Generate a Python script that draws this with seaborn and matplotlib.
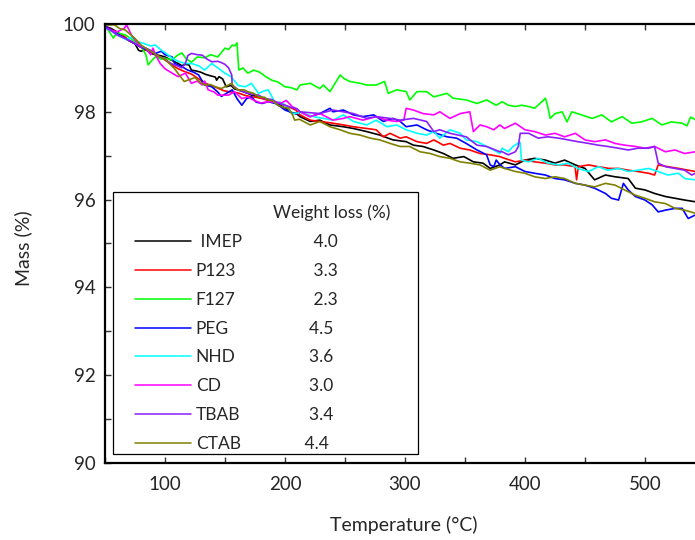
import matplotlib
matplotlib.use("Agg")
import matplotlib.pyplot as plt
import numpy as np
import pandas as pd
import seaborn as sns
from matplotlib.lines import Line2D
from matplotlib.patches import Rectangle
from matplotlib.ticker import MultipleLocator

samples = ["IMEP", "P123", "F127", "PEG", "NHD", "CD", "TBAB", "CTAB"]
legend_names = [" IMEP", "P123", "F127", "PEG", "NHD", "CD", "TBAB", "CTAB"]
weight_loss = ["4.0", "3.3", "2.3", "4.5", "3.6", "3.0", "3.4", "4.4"]
colors = ["#000000", "#ff0000", "#00ff00", "#0000ff", "#00ffff", "#ff00ff", "#8b1eff", "#808000"]
x_ticks = [100, 200, 300, 400, 500]
y_ticks = [90, 92, 94, 96, 98, 100]

T_IMEP = [50, 55, 60, 66, 70, 75, 78, 80, 84, 88, 92, 96, 100, 105, 111, 114, 117, 120, 122, 126,
          130, 134, 138, 142, 143, 145, 148, 151, 155, 158, 161, 165, 169, 172, 176, 180, 183, 187, 191, 194,
          198, 202, 206, 209, 212.5, 221, 229, 237.5, 248.6, 257, 268, 279, 290, 301, 307, 315, 324, 332, 340, 349,
          357, 365, 371, 379, 383, 392, 400, 408, 417, 425, 433, 442, 450, 458, 467, 475, 486, 492, 500, 508,
          517, 525, 533, 542]
M_IMEP = [99.95, 99.9, 99.82, 99.7, 99.62, 99.55, 99.4, 99.38, 99.42, 99.33, 99.3, 99.28, 99.25, 99.18, 99.1, 99.05, 99.08, 99.07, 98.95, 98.93,
          98.9, 98.85, 98.82, 98.79, 98.72, 98.8, 98.75, 98.57, 98.6, 98.52, 98.5, 98.46, 98.42, 98.38, 98.36, 98.32, 98.3, 98.27, 98.23, 98.19,
          98.12, 98.05, 97.96, 97.97, 97.89, 97.78, 97.81, 97.7, 97.66, 97.62, 97.55, 97.47, 97.36, 97.32, 97.24, 97.21, 97.13, 97.05, 96.94, 96.98,
          96.86, 96.83, 96.71, 96.79, 96.86, 96.79, 96.9, 96.94, 96.9, 96.83, 96.9, 96.79, 96.71, 96.45, 96.56, 96.52, 96.48, 96.26, 96.22, 96.14,
          96.07, 96.03, 95.99, 95.95]

T_P123 = [50, 55, 60, 66, 70, 75, 80, 83, 88, 92, 96, 100, 105, 111, 116, 122, 127, 133, 138, 144,
          149, 153, 157, 161, 166, 172, 176, 181, 186, 192, 196, 200, 205, 209, 212.5, 221, 229, 240, 249, 257,
          268, 276, 282, 287.5, 296, 301, 310, 318, 324, 332, 337.5, 346, 354, 362.5, 371, 379, 383, 392, 400, 408,
          417, 425, 433, 441.7, 443, 444.4, 453, 461, 470, 478, 486, 494, 503, 508, 511, 519, 528, 536, 542]
M_P123 = [99.95, 99.88, 99.8, 99.72, 99.62, 99.55, 99.47, 99.41, 99.38, 99.3, 99.25, 99.18, 99.08, 98.98, 98.92, 98.86, 98.77, 98.66, 98.6, 98.54,
          98.48, 98.46, 98.44, 98.43, 98.38, 98.34, 98.33, 98.3, 98.26, 98.23, 98.19, 98.15, 98.09, 98.04, 97.93, 97.81, 97.78, 97.74, 97.7, 97.66,
          97.62, 97.59, 97.43, 97.51, 97.4, 97.43, 97.32, 97.28, 97.36, 97.24, 97.28, 97.17, 97.13, 97.05, 97.02, 96.98, 96.94, 96.86, 96.9, 96.86,
          96.83, 96.79, 96.79, 96.75, 96.45, 96.75, 96.79, 96.75, 96.71, 96.71, 96.67, 96.64, 96.6, 96.56, 96.79, 96.75, 96.71, 96.67, 96.64]

T_F127 = [50, 53, 57, 60, 67, 75, 80, 84, 86, 90, 92, 97, 100, 106, 110, 114, 118, 122, 127, 133,
          138, 144, 147, 150, 153, 156, 158, 160, 161.5, 165, 169, 174, 179, 184, 189, 194, 200, 205, 210, 212.5,
          221, 229, 232, 237.5, 246, 249, 254, 262.5, 268, 276, 283, 286, 293, 301, 304, 310, 318, 324, 335, 340,
          351, 360, 368, 376, 381, 386, 392, 397, 403, 408, 414, 417, 419, 421, 425, 431, 435, 439, 447, 456,
          464, 472, 481, 489, 497, 506, 514, 522, 531, 535, 538, 542]
M_F127 = [99.97, 99.85, 99.68, 99.8, 99.75, 99.6, 99.5, 99.3, 99.07, 99.2, 99.25, 99.2, 99.22, 99.18, 99.28, 99.34, 99.2, 99.13, 99.25, 99.23,
          99.3, 99.25, 99.35, 99.45, 99.42, 99.52, 99.5, 99.57, 98.95, 99.0, 98.88, 98.95, 98.9, 98.8, 98.72, 98.68, 98.57, 98.55, 98.5, 98.61,
          98.65, 98.53, 98.61, 98.46, 98.84, 98.76, 98.69, 98.65, 98.61, 98.61, 98.69, 98.42, 98.5, 98.46, 98.27, 98.46, 98.46, 98.34, 98.42, 98.31,
          98.27, 98.19, 98.27, 98.15, 98.23, 98.15, 98.12, 98.15, 98.12, 98.08, 98.23, 98.31, 98.12, 97.85, 97.96, 98.0, 97.77, 98.0, 97.93, 97.85,
          97.93, 97.77, 97.89, 97.74, 97.77, 97.85, 97.7, 97.77, 97.74, 97.68, 97.88, 97.82]

T_PEG = [50, 55, 60, 66, 72, 78, 84, 90, 92, 97, 100, 106, 108, 114, 119, 124, 128, 133, 139, 144,
         147, 150, 156, 160, 164, 168, 172, 176, 181, 186, 192, 196, 200, 205, 209, 212.5, 221, 229, 237.5, 240,
         248.6, 257, 265, 274, 282, 290, 296, 301, 310, 318, 326, 335, 343, 351, 360, 368, 371, 374, 376, 379,
         383, 392, 400, 408, 417, 425, 433, 442, 450, 458, 467, 472, 478, 482, 486, 492, 500, 506, 511, 517,
         525, 531, 536, 542]
M_PEG = [99.95, 99.87, 99.78, 99.68, 99.6, 99.5, 99.42, 99.36, 99.33, 99.38, 99.3, 99.25, 99.1, 99.03, 98.95, 98.9, 98.84, 98.61, 98.57, 98.45,
         98.35, 98.4, 98.5, 98.3, 98.15, 98.3, 98.34, 98.22, 98.19, 98.23, 98.19, 98.12, 98.04, 97.99, 97.95, 98.0, 97.89, 97.96, 98.08, 98.0,
         98.04, 97.93, 97.89, 97.93, 97.78, 97.85, 97.78, 97.66, 97.7, 97.59, 97.51, 97.43, 97.4, 97.28, 97.13, 97.02, 96.79, 96.75, 96.9, 96.8,
         96.71, 96.75, 96.64, 96.6, 96.56, 96.48, 96.45, 96.37, 96.33, 96.26, 96.14, 96.03, 95.99, 96.37, 96.22, 96.07, 95.99, 95.88, 95.72, 95.76,
         95.8, 95.8, 95.57, 95.65]

T_NHD = [50, 55, 60, 64, 68, 72, 77, 83, 88, 92, 97, 100, 106, 111, 117, 122, 128, 133, 139, 144,
         150, 155, 161, 167, 172, 178, 183, 186, 192, 196, 200, 206, 211, 212.5, 223.6, 232, 240, 248.6, 257, 268,
         276, 285, 293, 301, 310, 318, 324, 329, 337.5, 346, 351, 360, 368, 374, 379, 381, 386, 390, 394, 396,
         397, 403, 411, 419, 428, 436, 444, 453, 461, 469, 478, 486, 494, 503, 511, 519, 528, 533, 542]
M_NHD = [99.9, 99.85, 99.75, 99.7, 99.64, 99.7, 99.6, 99.55, 99.5, 99.52, 99.4, 99.35, 99.22, 99.15, 99.1, 99.1, 99.05, 98.95, 99.1, 99.0,
         98.88, 98.8, 98.6, 98.57, 98.65, 98.42, 98.48, 98.5, 98.2, 98.22, 98.16, 97.96, 97.97, 98.0, 97.89, 97.85, 97.81, 97.93, 97.78, 97.7,
         97.81, 97.66, 97.7, 97.59, 97.51, 97.47, 97.55, 97.4, 97.59, 97.51, 97.36, 97.32, 97.21, 97.13, 97.05, 97.17, 97.09, 97.21, 97.28, 97.3,
         96.9, 96.86, 96.94, 96.83, 96.79, 96.83, 96.71, 96.64, 96.75, 96.67, 96.71, 96.64, 96.67, 96.71, 96.64, 96.56, 96.6, 96.48, 96.45]

T_CD = [50, 55, 60, 66, 68, 72, 75, 80, 84, 88, 90, 92, 96, 100, 106, 111, 117, 122, 127, 131,
        133, 136, 141, 144, 150, 153, 158, 164, 169, 175, 180, 186, 192, 197, 201, 206, 211, 212.5, 221, 229,
        240, 248.6, 254, 265, 276, 284.7, 293, 299, 301, 307, 315, 324, 329, 337.5, 346, 354, 357, 362.5, 368, 374,
        379, 383, 392, 400, 408, 417, 425, 433, 442, 450, 458, 467, 475, 483, 492, 500, 508, 517, 525, 533,
        542]
M_CD = [99.92, 99.85, 99.82, 99.9, 99.98, 99.75, 99.64, 99.48, 99.45, 99.3, 99.45, 99.3, 99.1, 98.98, 98.88, 98.8, 98.88, 98.65, 98.7, 98.61,
        98.7, 98.5, 98.45, 98.38, 98.38, 98.38, 98.46, 98.3, 98.34, 98.25, 98.2, 98.23, 98.22, 98.2, 98.26, 98.12, 98.04, 98.0, 97.89, 97.96,
        97.81, 97.85, 97.89, 97.81, 97.89, 97.81, 97.78, 97.81, 98.08, 98.04, 97.96, 97.93, 98.0, 97.85, 97.96, 98.0, 97.55, 97.7, 97.66, 97.59,
        97.7, 97.62, 97.74, 97.59, 97.55, 97.47, 97.51, 97.43, 97.51, 97.36, 97.32, 97.36, 97.28, 97.24, 97.21, 97.17, 97.21, 97.09, 97.13, 97.05,
        97.09]

T_TBAB = [50, 55, 60, 66, 72, 78, 84, 88, 92, 96, 100, 105, 110, 114, 117, 119, 122, 127, 131, 135,
          139, 144, 147, 150, 153, 155.6, 156, 158, 161, 166, 172, 178, 183, 189, 194, 200, 205, 210, 212.5, 229,
          240, 248.6, 257, 268, 276, 287.5, 296, 307, 318, 324, 329, 337.5, 351, 360, 368, 379, 381, 386, 392, 394.4,
          396, 403, 411, 419, 428, 436, 444, 453, 461, 469, 478, 486, 494, 503, 508, 511, 517, 525, 533, 539,
          542]
M_TBAB = [99.93, 99.85, 99.75, 99.68, 99.6, 99.5, 99.45, 99.4, 99.3, 99.25, 99.2, 99.1, 99.05, 99.0, 99.1, 99.28, 99.33, 99.3, 99.29, 99.2,
          99.14, 99.15, 99.12, 99.08, 99.0, 98.84, 98.6, 98.57, 98.5, 98.45, 98.4, 98.38, 98.3, 98.28, 98.2, 98.15, 98.1, 98.07, 98.0, 97.96,
          98.04, 98.0, 97.96, 97.85, 97.89, 97.85, 97.81, 97.85, 97.78, 97.55, 97.59, 97.51, 97.43, 97.24, 97.21, 97.09, 97.09, 97.02, 97.09, 97.21,
          97.51, 97.51, 97.4, 97.43, 97.4, 97.36, 97.32, 97.28, 97.24, 97.21, 97.17, 97.13, 97.17, 97.17, 97.21, 96.83, 96.75, 96.71, 96.67, 96.56,
          96.6]

T_CTAB = [50, 58, 62, 67, 75, 80, 86, 90, 94, 100, 103, 108, 114, 116, 120, 125, 128, 133, 138, 142,
          147, 152, 155.6, 158, 161, 166, 169, 174, 178, 183, 186, 190, 194, 199, 203, 206, 208, 212, 221, 229,
          237.5, 246, 254, 262.5, 271, 279, 287.5, 296, 304, 312.5, 321, 329, 337.5, 346, 354, 362.5, 371, 379, 383, 392,
          400, 408, 417, 425, 433, 442, 450, 458, 467, 475, 483, 492, 500, 508, 517, 525, 533, 542]
M_CTAB = [99.98, 99.98, 99.9, 99.86, 99.67, 99.52, 99.41, 99.35, 99.27, 99.2, 99.12, 98.98, 98.76, 98.69, 98.73, 98.78, 98.7, 98.61, 98.62, 98.57,
          98.53, 98.6, 98.65, 98.55, 98.5, 98.5, 98.46, 98.42, 98.34, 98.33, 98.27, 98.25, 98.15, 98.1, 98.08, 97.95, 97.81, 97.83, 97.7, 97.78,
          97.66, 97.59, 97.51, 97.47, 97.4, 97.36, 97.28, 97.21, 97.21, 97.09, 97.05, 96.98, 96.94, 96.86, 96.83, 96.79, 96.67, 96.75, 96.71, 96.64,
          96.6, 96.52, 96.48, 96.52, 96.48, 96.37, 96.33, 96.29, 96.37, 96.33, 96.22, 96.1, 96.03, 95.95, 95.91, 95.8, 95.76, 95.69]

series = {
    "IMEP": (T_IMEP, M_IMEP), "P123": (T_P123, M_P123), "F127": (T_F127, M_F127),
    "PEG": (T_PEG, M_PEG), "NHD": (T_NHD, M_NHD), "CD": (T_CD, M_CD),
    "TBAB": (T_TBAB, M_TBAB), "CTAB": (T_CTAB, M_CTAB),
}
df = pd.concat([pd.DataFrame({"Temperature": t, "Mass": m, "Sample": k})
                for k, (t, m) in series.items()], ignore_index=True)

sns.set_style("ticks")
plt.rcParams["font.family"] = ["Lato", "DejaVu Sans"]

fig = plt.figure(figsize=(6.95, 5.4), dpi=100)
ax = fig.add_axes([105 / 695, 77 / 540, 594 / 695, 439 / 540])
palette = dict(zip(samples, colors))
sns.lineplot(data=df, x="Temperature", y="Mass", hue="Sample", hue_order=samples,
             palette=palette, estimator=None, sort=False, lw=1.2, legend=False, ax=ax)

ax.set_xlim(50, 545)
ax.set_ylim(90, 100)
ax.set_xticks(x_ticks)
ax.set_yticks(y_ticks)
ax.xaxis.set_minor_locator(MultipleLocator(50))
ax.yaxis.set_minor_locator(MultipleLocator(1))
ax.tick_params(which="both", direction="in", top=True, right=False, length=4, width=1, color="#333333")
ax.tick_params(which="major", labelsize=13.5)
ax.tick_params(axis="x", which="major", pad=9)
ax.tick_params(axis="y", which="major", pad=7)
for s in ["left", "bottom", "top"]:
    ax.spines[s].set_linewidth(1.6)
    ax.spines[s].set_color("black")
ax.spines["right"].set_visible(False)

ax.set_xlabel("Temperature (°C)", fontsize=14)
ax.set_ylabel("Mass (%)", fontsize=14)
ax.xaxis.set_label_coords(0.503, -0.121)
ax.yaxis.set_label_coords(-0.123, 0.49)

# legend box
ax.add_patch(Rectangle(((113 - 105) / 594, (463 - 454) / 439), (418 - 113) / 594, (454 - 192) / 439,
                       transform=ax.transAxes, fill=False, ec="black", lw=0.9, zorder=5))

fs = 12.5
lsp = 0.74
h1 = [Line2D([], [], color="none")] + [Line2D([], [], color=c, lw=1.1) for c in colors]
l1 = [" "] + legend_names
leg1 = ax.legend(h1, l1, loc="lower left", bbox_to_anchor=(0.0505, 0.025), frameon=False,
                 borderpad=0, borderaxespad=0, handlelength=3.2, handletextpad=0.3,
                 labelspacing=lsp, fontsize=fs)
ax.add_artist(leg1)

pads = [9, 9, 9, 8, 8, 8, 8, 7]
h2 = [Line2D([], [], color="none") for _ in range(9)]
l2 = ["Weight loss (%)"] + [" " * p + v for p, v in zip(pads, weight_loss)]
leg2 = ax.legend(h2, l2, loc="lower left", bbox_to_anchor=(0.283, 0.025), frameon=False,
                 borderpad=0, borderaxespad=0, handlelength=0, handletextpad=0,
                 labelspacing=lsp, fontsize=fs)

fig.savefig("out.png", dpi=100)
